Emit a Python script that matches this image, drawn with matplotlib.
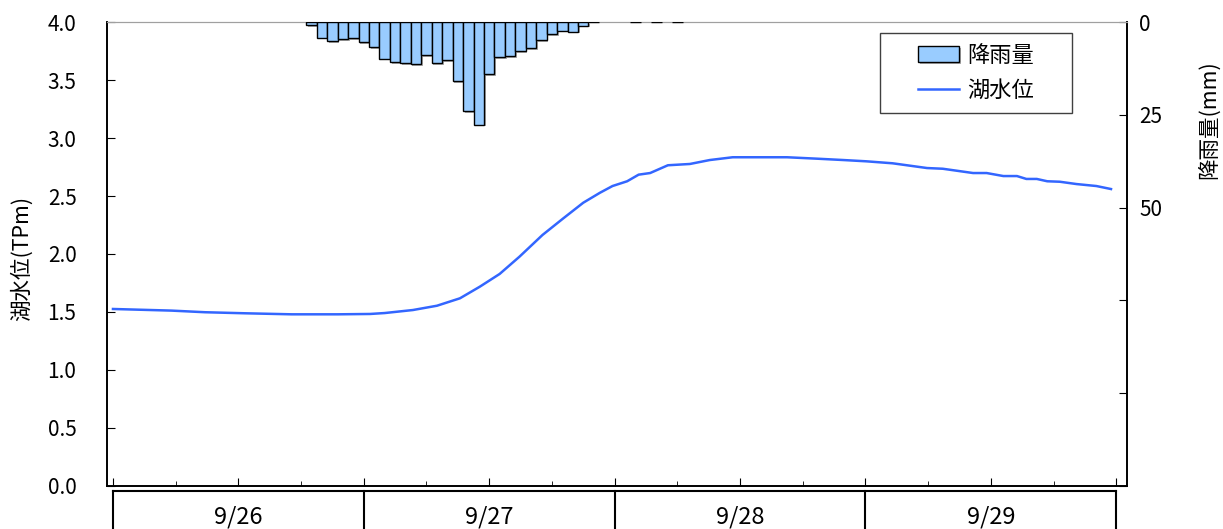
import numpy as np
import matplotlib
matplotlib.use("Agg")
import matplotlib.pyplot as plt
import matplotlib.patheffects as pe
from matplotlib.patches import Rectangle

plt.rcParams["font.family"] = ["Noto Sans CJK JP", "DejaVu Sans"]

# hours counted from 9/26 0:00
level_hours = [0, 5.6, 8.8, 12.6, 17.1, 21.5, 24.6, 26.0, 28.7, 31.0, 33.2, 35.1,
               37.0, 38.9, 41.1, 43.1, 45.0, 46.6, 47.8, 49.2, 50.3, 51.4, 53.1,
               55.2, 57.1, 59.3, 64.5, 67.3, 69.9, 72.1, 74.6, 77.9, 79.4, 82.3,
               83.6, 85.2, 86.5, 87.4, 88.4, 89.4, 90.6, 92.2, 94.1, 95.5]
level_tpm = [1.526, 1.512, 1.498, 1.489, 1.480, 1.480, 1.483, 1.491, 1.517, 1.554,
             1.618, 1.718, 1.828, 1.977, 2.164, 2.308, 2.442, 2.528, 2.586, 2.627,
             2.684, 2.698, 2.765, 2.776, 2.810, 2.834, 2.834, 2.822, 2.810, 2.799,
             2.782, 2.741, 2.735, 2.698, 2.698, 2.672, 2.672, 2.647, 2.647, 2.627,
             2.623, 2.603, 2.586, 2.560]

rain_hours = list(range(19, 47)) + [50, 52, 54]
rain_mm = [0.8, 4.2, 5.1, 4.6, 4.4, 5.5, 6.8, 9.9, 10.8, 11.0, 11.3, 9.0, 11.1, 10.2,
           15.9, 24.0, 27.7, 14.0, 9.5, 9.2, 7.8, 7.1, 4.9, 3.2, 2.3, 2.6, 1.0, 0.0,
           0.0, 0.0, 0.0]

day_labels = ["9/26", "9/27", "9/28", "9/29"]

fig = plt.figure(figsize=(12.23, 5.29), dpi=100)
ax = fig.add_axes([0.0875, 0.0813, 0.834, 0.8771])
ax2 = ax.twinx()

# Water level
line, = ax.plot(level_hours, level_tpm, color="#3366FF", lw=1.8)
ax.set_xlim(-0.57, 97.03)
ax.set_ylim(0, 4.0)
ax.set_yticks(np.arange(0, 4.01, 0.5))
ax.set_yticklabels([f"{v:.1f}" for v in np.arange(0, 4.01, 0.5)])
ax.set_xticks(np.arange(0, 97, 12))
ax.set_xticks(np.arange(6, 97, 12), minor=True)
ax.tick_params(axis="x", which="major", direction="in", length=5.5, labelbottom=False)
ax.tick_params(axis="x", which="minor", direction="in", length=3.3)
ax.tick_params(axis="y", direction="in", length=6, pad=22, labelsize=15)
ax.set_ylabel("湖水位(TPm)", fontsize=15.5)
ax.yaxis.set_label_coords(-0.0725, 0.49)

# Rainfall (inverted)
bars = ax2.bar(rain_hours, rain_mm, width=1.0, color="#99CCFF", edgecolor="black",
               lw=1.0, zorder=3)
for b in bars:
    b.set_path_effects([pe.SimplePatchShadow(offset=(1.2, -1.2), shadow_rgbFace="0.35",
                                             alpha=0.5), pe.Normal()])
ax2.set_ylim(125, 0)
ax2.set_yticks([0, 25, 50, 75, 100, 125])
ax2.set_yticklabels(["0", "25", "50", "", "", ""])
ax2.tick_params(axis="y", direction="in", length=5.5, pad=9, labelsize=15)
ax2.set_ylabel("降雨量(mm)", fontsize=15.5)
ax2.yaxis.set_label_coords(1.0696, 0.789)

for a in (ax, ax2):
    a.spines["top"].set_color("#A0A0A0")
    for s in ("left", "right", "bottom"):
        a.spines[s].set_linewidth(1.2)

# Date boxes under the axis
trans = ax.get_xaxis_transform()
ax.plot([0, 96], [-0.011, -0.011], transform=trans, color="black", lw=1.5, clip_on=False)
for d, lab in enumerate(day_labels + [None]):
    ax.plot([d * 24, d * 24], [-0.011, -0.2], transform=trans, color="black", lw=1.5,
            clip_on=False)
    if lab:
        ax.text(d * 24 + 12, -0.043, lab, transform=trans, ha="center", va="top",
                fontsize=17)

# Legend
frame = Rectangle((0.758, 0.804), 0.188, 0.172, transform=ax2.transAxes,
                  facecolor="white", edgecolor="0.25", lw=1.0, zorder=4, clip_on=False)
ax2.add_patch(frame)
leg = ax2.legend([bars, line], ["降雨量", "湖水位"], loc="center",
                 bbox_to_anchor=(0.852, 0.890), frameon=False, fontsize=16,
                 handlelength=1.85, handleheight=0.7, handletextpad=0.35,
                 labelspacing=0.55)
leg.set_zorder(5)

fig.savefig("out.png", dpi=100)
